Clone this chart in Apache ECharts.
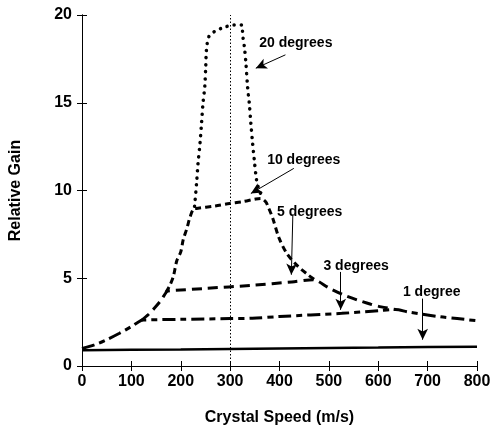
<!DOCTYPE html>
<html>
<head>
<meta charset="utf-8">
<script src="https://cdn.jsdelivr.net/npm/echarts@6/dist/echarts.min.js"></script>
<style>
html,body{margin:0;padding:0;background:#fff;}
#c{width:495px;height:435px;}
</style>
</head>
<body>
<div id="c"></div>
<script>
// Data (Crystal Speed m/s, Relative Gain)
const deg1 = [[0,0.9],[100,0.92],[200,0.94],[300,0.97],[400,1.0],[500,1.03],[600,1.05],[700,1.08],[800,1.1]];
const deg3 = [[0,1.0],[25,1.2],[50,1.5],[75,1.85],[100,2.25],[120,2.6],[125,2.62],[200,2.66],[300,2.7],[345,2.72],[400,2.82],[526,3.0],[600,3.15],[635,3.22],[660,3.08],[726,2.8],[760,2.7],[800,2.58]];
const deg5 = [[120,2.6],[135,2.95],[150,3.4],[160,3.75],[172,4.25],[175,4.28],[250,4.42],[345,4.6],[425,4.79],[470,4.92],[480,4.8],[500,4.45],[530,4.05],[559,3.75],[585,3.52],[606,3.37],[635,3.22]];
const deg10 = [[170,4.2],[178,4.6],[185,5.1],[192,6.0],[200,6.5],[205,7.2],[212,7.8],[219,8.5],[226,8.95],[232,8.98],[270,9.12],[299,9.26],[325,9.36],[352,9.52],[362,9.55],[372,9.36],[378,9.0],[386,8.45],[399,7.3],[415,6.4],[436,5.72],[459,5.17],[475,4.85]];
const deg20 = [[228,9.1],[232,10.4],[235,11.55],[239,12.7],[242,13.8],[245,14.97],[248.6,15.9],[250.6,17.06],[252,18.0],[257,18.77],[268,19.05],[288,19.3],[308,19.43],[324,19.43],[325.4,18.86],[328.8,18.2],[332,17.25],[335.4,15.9],[338.8,14.97],[342,13.83],[345.5,12.7],[349,11.73],[353.5,10.6],[359,10.0],[366,9.6]];
const peakSpeed = 300;
const xTicks = {min:0, max:800, interval:100};
const yTicks = {min:0, max:20, interval:5};
const labelTexts = ['20 degrees','10 degrees','5 degrees','3 degrees','1 degree'];
const labelPos = [[359,18.41],[375,11.73],[395,8.78],[489,5.69],[650,4.22]];
const arrowFrom = [[412,17.73],[429,11.26],[427,8.6],[524,5.36],[690,3.84]];
const arrowTo = [[352,16.97],[342,9.83],[424,5.2],[524,3.2],[690,1.5]];

const FONT = 'Liberation Sans, Arial, sans-serif';
const chart = echarts.init(document.getElementById('c'), null, {renderer:'canvas'});

const axisCommon = {
  axisLine:{show:true, lineStyle:{color:'#000', width:1}},
  axisTick:{show:true, inside:true, length:5, lineStyle:{color:'#000', width:1}},
  splitLine:{show:false}
};

const option = {
  animation:false,
  backgroundColor:'#fff',
  grid:{left:78, right:18, top:15, bottom:69},
  xAxis:[
    Object.assign({type:'value', min:xTicks.min, max:xTicks.max, interval:xTicks.interval, position:'bottom',
      name:'Crystal Speed (m/s)', nameLocation:'middle', nameGap:44,
      nameTextStyle:{fontFamily:FONT, fontSize:16, fontWeight:'bold', color:'#000'},
      axisLabel:{fontFamily:FONT, fontSize:16, fontWeight:'bold', color:'#000', margin:8}}, axisCommon),
    Object.assign({type:'value', min:xTicks.min, max:xTicks.max, interval:xTicks.interval, position:'top',
      axisLabel:{show:false}}, axisCommon)
  ],
  yAxis:[
    Object.assign({type:'value', min:yTicks.min, max:yTicks.max, interval:yTicks.interval, position:'left',
      name:'Relative Gain', nameLocation:'middle', nameGap:58,
      nameTextStyle:{fontFamily:FONT, fontSize:16, fontWeight:'bold', color:'#000'},
      axisLabel:{fontFamily:FONT, fontSize:16, fontWeight:'bold', color:'#000', margin:10}}, axisCommon),
    Object.assign({type:'value', min:yTicks.min, max:yTicks.max, interval:yTicks.interval, position:'right',
      axisLabel:{show:false}}, axisCommon)
  ],
  series:[
    {type:'line', data:deg1, showSymbol:false, smooth:false,
      lineStyle:{color:'#000', width:2.5}},
    {type:'line', data:deg3, showSymbol:false, smooth:0.3,
      lineStyle:{color:'#000', width:3, type:[13,5,6,5]}},
    {type:'line', data:deg5, showSymbol:false, smooth:0.3,
      lineStyle:{color:'#000', width:3, type:[10,6]}},
    {type:'line', data:deg10, showSymbol:false, smooth:0.3,
      lineStyle:{color:'#000', width:3, type:[6,4]}},
    {type:'line', data:deg20, showSymbol:false, smooth:0.3,
      lineStyle:{color:'#000', width:3.5, type:[0.1,7], cap:'round'},
      markLine:{silent:true, symbol:['none','none'], label:{show:false},
        lineStyle:{color:'#000', width:1, type:[1.5,2]},
        data:[{xAxis:peakSpeed}]}},
    {type:'line', data:[], showSymbol:false,
      markLine:{silent:true, symbol:['none','arrow'], symbolSize:[8,11], label:{show:false},
        lineStyle:{color:'#000', width:1, type:'solid'},
        data:arrowFrom.map((p,i)=>[{coord:p},{coord:arrowTo[i]}])}},
    {type:'scatter', symbolSize:0, silent:true, itemStyle:{opacity:1, color:'#000'},
      data:labelPos.map((p,i)=>({value:p, name:labelTexts[i]})),
      label:{show:true, position:'right', distance:0, formatter:'{b}', opacity:1,
        fontFamily:FONT, fontSize:14, fontWeight:'bold', color:'#000'}}
  ]
};
chart.setOption(option);
</script>
</body>
</html>
